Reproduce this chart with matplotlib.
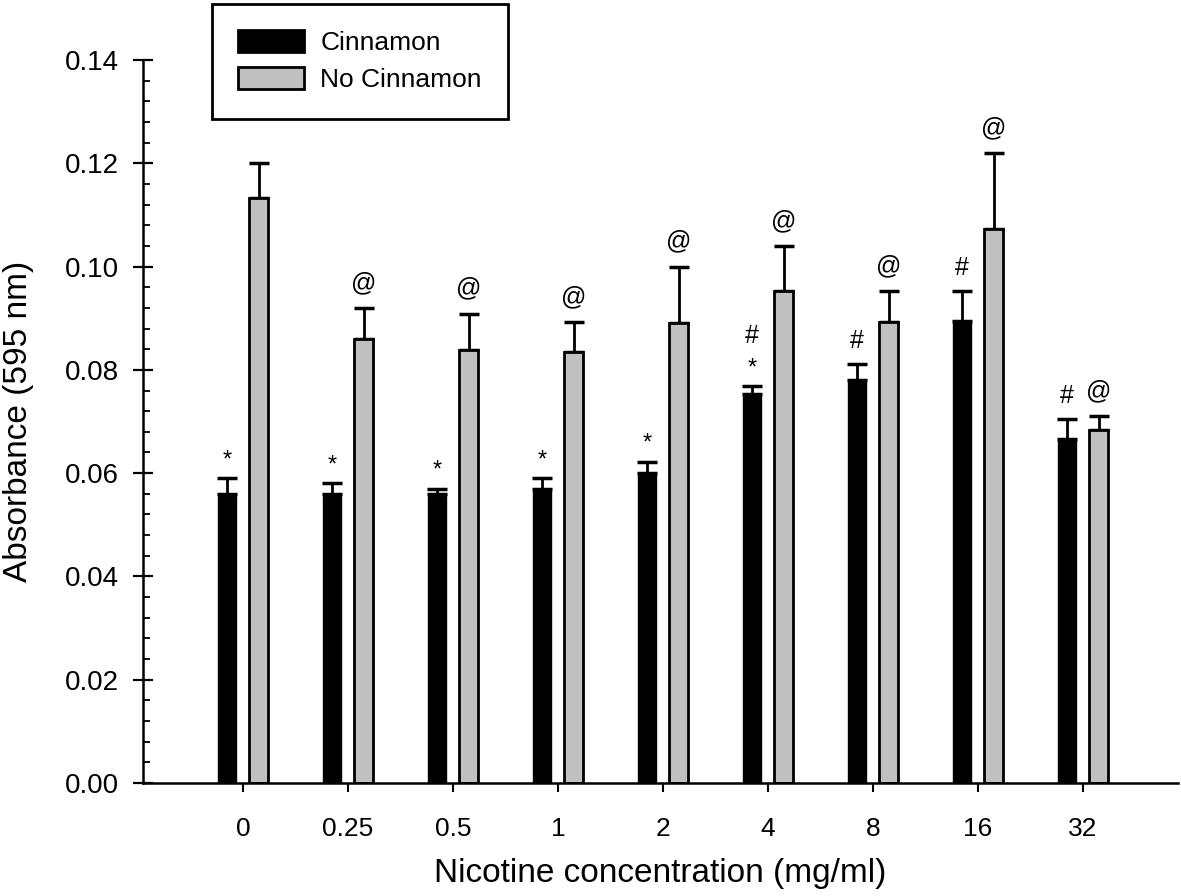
import numpy as np
import matplotlib
matplotlib.use("Agg")
import matplotlib.pyplot as plt
from matplotlib.patches import Patch
from matplotlib.ticker import MultipleLocator, FormatStrFormatter

plt.rcParams["font.family"] = ["Liberation Sans", "DejaVu Sans"]

# values
concentrations = ["0", "0.25", "0.5", "1", "2", "4", "8", "16", "32"]
cinnamon = [0.056, 0.056, 0.056, 0.057, 0.060, 0.0754, 0.078, 0.0894, 0.0667]
cinnamon_err = [0.003, 0.002, 0.001, 0.002, 0.0022, 0.0014, 0.0031, 0.0058, 0.0037]
no_cinnamon = [0.1132, 0.086, 0.0839, 0.0834, 0.089, 0.0952, 0.0892, 0.1072, 0.0683]
no_cinnamon_err = [0.0068, 0.0059, 0.007, 0.0058, 0.011, 0.0087, 0.006, 0.0148, 0.0027]

# significance marks
star_marks = [1, 1, 1, 1, 1, 1, 0, 0, 0]
hash_marks = [0, 0, 0, 0, 0, 1, 1, 1, 1]
at_marks = [0, 1, 1, 1, 1, 1, 1, 1, 1]

GRAY = "#c0c0c0"
W, H = 1181, 896

fig = plt.figure(figsize=(W / 100, H / 100), dpi=100)
ax = fig.add_axes([143 / W, 1 - 783 / H, (1178 - 143) / W, (783 - 60) / H])

x = np.arange(len(concentrations))
off = 0.152
width = 0.18

ax.bar(x - off, cinnamon, width, color="black", edgecolor="black", linewidth=1, zorder=2)
ax.bar(x + off, no_cinnamon, width, color=GRAY, edgecolor="black", linewidth=2, zorder=2)

zeros = np.zeros(len(x))
ax.errorbar(x - off, cinnamon, yerr=[zeros, cinnamon_err], fmt="none",
            ecolor="black", elinewidth=2, capsize=7, capthick=2.5, zorder=1)
ax.errorbar(x + off, no_cinnamon, yerr=[zeros, no_cinnamon_err], fmt="none",
            ecolor="black", elinewidth=2, capsize=7, capthick=2.5, zorder=1)

for i in range(len(x)):
    top_c = cinnamon[i] + cinnamon_err[i]
    top_n = no_cinnamon[i] + no_cinnamon_err[i]
    if star_marks[i]:
        ax.annotate("*", xy=(x[i] - off, top_c), xytext=(0, 13),
                    textcoords="offset points", ha="center", va="center",
                    fontsize=17)
    if hash_marks[i]:
        dy = 36 if star_marks[i] else 17
        ax.annotate("#", xy=(x[i] - off, top_c), xytext=(0, dy),
                    textcoords="offset points", ha="center", va="center",
                    fontsize=18)
    if at_marks[i]:
        ax.annotate("@", xy=(x[i] + off, top_n), xytext=(0, 18),
                    textcoords="offset points", ha="center", va="center",
                    fontsize=18)

ax.set_xlim(-0.952, 8.905)
ax.set_ylim(0, 0.14)

for side in ["top", "right"]:
    ax.spines[side].set_visible(False)
for side in ["left", "bottom"]:
    ax.spines[side].set_linewidth(1.8)

ax.set_xticks(x)
ax.set_xticklabels(concentrations)
ax.yaxis.set_major_locator(MultipleLocator(0.02))
ax.yaxis.set_minor_locator(MultipleLocator(0.004))
ax.yaxis.set_major_formatter(FormatStrFormatter("%.2f"))

ax.tick_params(axis="x", direction="out", length=6.5, width=1.5, pad=18, labelsize=19)
ax.tick_params(axis="y", which="major", direction="inout", length=15, width=1.6,
               pad=10, labelsize=20)
ax.tick_params(axis="y", which="minor", direction="in", length=5, width=1.3)

ax.set_xlabel("Nicotine concentration (mg/ml)", fontsize=24, labelpad=12)
ax.set_ylabel("Absorbance (595 nm)", fontsize=24, labelpad=22)

handles = [Patch(facecolor="black", edgecolor="black", linewidth=2),
           Patch(facecolor=GRAY, edgecolor="black", linewidth=2)]
leg = fig.legend(handles, ["Cinnamon", "No Cinnamon"], loc="upper left",
                 bbox_to_anchor=(212 / W, 1 - 4 / H), bbox_transform=fig.transFigure,
                 borderaxespad=0, fontsize=19, handlelength=2.5, handleheight=0.9,
                 handletextpad=0.6, borderpad=1.0, labelspacing=0.45,
                 fancybox=False, framealpha=1)
leg.get_frame().set_edgecolor("black")
leg.get_frame().set_linewidth(2)

fig.savefig("out.png", dpi=100)
